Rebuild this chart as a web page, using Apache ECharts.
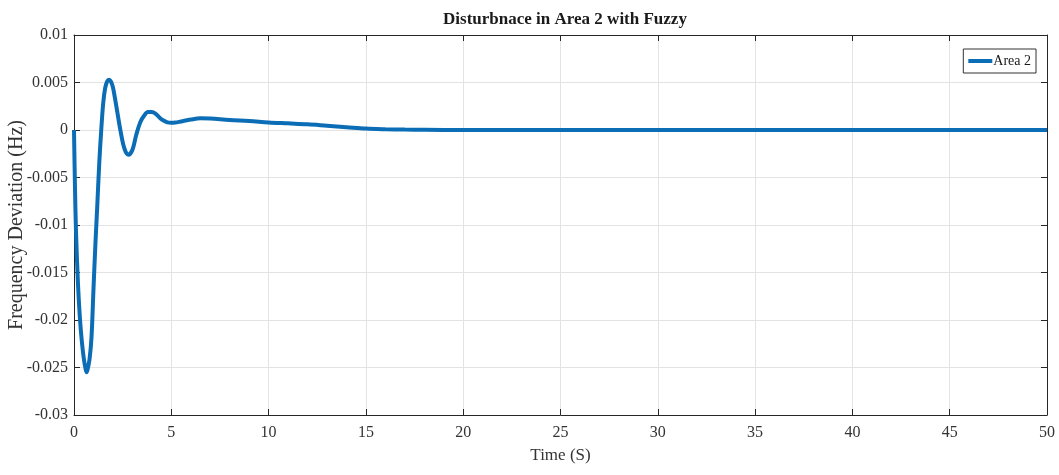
<!DOCTYPE html>
<html>
<head>
<meta charset="utf-8">
<title>Disturbnace in Area 2 with Fuzzy</title>
<script src="https://cdn.jsdelivr.net/npm/echarts@6/dist/echarts.min.js"></script>
<style>
  html, body { margin: 0; padding: 0; background: #ffffff; }
  #chart { width: 1059px; height: 475px; }
</style>
</head>
<body>
<div id="chart"></div>
<script>
// Frequency deviation of Area 2 after the load disturbance (fuzzy controller)
const timeS = [0, 0.05, 0.1, 0.2, 0.3, 0.4, 0.5, 0.6, 0.65, 0.7, 0.8, 0.9, 1.0, 1.1, 1.2, 1.3, 1.4,
  1.5, 1.6, 1.7, 1.8, 1.9, 2.0, 2.1, 2.2, 2.4, 2.6, 2.8, 3.0, 3.2, 3.4, 3.6, 3.8, 4.0, 4.2, 4.4,
  4.6, 4.8, 5.0, 5.2, 5.5, 6.0, 6.5, 7.0, 8, 9, 10, 11, 12, 13, 14, 15, 16, 17, 18, 20, 25, 30, 40, 50];
const area2 = [0, -0.0060, -0.0105, -0.0160, -0.0197, -0.0222, -0.0240, -0.0252, -0.0255, -0.0252,
  -0.0241, -0.0218, -0.0168, -0.0120, -0.0078, -0.0034, 0.0000,
  0.0028, 0.0044, 0.0051, 0.0053, 0.0051, 0.0045, 0.0034, 0.0022, -0.0002, -0.0020, -0.0026,
  -0.0021, -0.0005, 0.0008, 0.0015, 0.0019, 0.0019, 0.0017, 0.0013,
  0.0010, 0.0008, 0.00076, 0.00078, 0.0009, 0.0011, 0.00123, 0.0012, 0.00105, 0.00095, 0.0008,
  0.0007, 0.0006, 0.00045, 0.0003, 0.00015, 0.00008, 0.00004, 0.00002, 0, 0, 0, 0, 0];
const xTicks = [0, 5, 10, 15, 20, 25, 30, 35, 40, 45, 50];
const yTicks = [-0.03, -0.025, -0.02, -0.015, -0.01, -0.005, 0, 0.005, 0.01];

const FONT = '"Liberation Serif", "Times New Roman", serif';
const AXIS_COLOR = '#262626';
const GRID_COLOR = '#e3e3e3';

const points = timeS.map((t, i) => [t, area2[i]]);

const yLabel = v => {
  const hit = yTicks.find(t => Math.abs(t - v) < 1e-9);
  if (hit === undefined) return '';
  return hit === 0 ? '0' : String(parseFloat(hit.toFixed(3)));
};

const chart = echarts.init(document.getElementById('chart'), null, { renderer: 'canvas' });
chart.setOption({
  animation: false,
  backgroundColor: '#ffffff',
  title: {
    text: 'Disturbnace in Area 2 with Fuzzy',
    left: 560,
    textAlign: 'center',
    top: 6,
    textStyle: { fontFamily: FONT, fontWeight: 'bold', fontSize: 17, color: '#1a1a1a' }
  },
  legend: {
    data: ['Area 2'],
    right: 23,
    top: 49,
    orient: 'vertical',
    backgroundColor: '#ffffff',
    borderColor: '#333333',
    borderWidth: 1,
    borderRadius: 0,
    padding: [5, 5, 5, 5],
    icon: 'rect',
    itemWidth: 24,
    itemHeight: 4,
    itemGap: 2,
    textStyle: { fontFamily: FONT, fontSize: 14, color: '#1a1a1a', padding: [0, 0, 0, -4] }
  },
  grid: { left: 74, right: 12, top: 35, bottom: 60, containLabel: false, outerBoundsMode: 'none' },
  xAxis: [{
    type: 'value',
    min: 0, max: 50, interval: 5,
    name: 'Time (S)',
    nameLocation: 'middle',
    nameGap: 32,
    nameMoveOverlap: false,
    nameTextStyle: { fontFamily: FONT, fontSize: 17, color: '#333333' },
    axisLine: { onZero: false, lineStyle: { color: AXIS_COLOR, width: 1 } },
    axisTick: { inside: true, length: 6, lineStyle: { color: AXIS_COLOR } },
    axisLabel: { fontFamily: FONT, fontSize: 16, color: '#333333', margin: 10,
      formatter: v => xTicks.includes(v) ? String(v) : '' },
    splitLine: { show: true, lineStyle: { color: GRID_COLOR, width: 1 } }
  }, {
    type: 'value', position: 'top',
    min: 0, max: 50, interval: 5,
    axisLine: { onZero: false, lineStyle: { color: AXIS_COLOR, width: 1 } },
    axisTick: { inside: true, length: 6, lineStyle: { color: AXIS_COLOR } },
    axisLabel: { show: false },
    splitLine: { show: false }
  }],
  yAxis: [{
    type: 'value',
    min: -0.03, max: 0.01, interval: 0.005,
    name: 'Frequency Deviation (Hz)',
    nameLocation: 'middle',
    nameGap: 47,
    nameMoveOverlap: false,
    nameTextStyle: { fontFamily: FONT, fontSize: 20, color: '#333333' },
    axisLine: { show: true, onZero: false, lineStyle: { color: AXIS_COLOR, width: 1 } },
    axisTick: { show: true, inside: true, length: 6, lineStyle: { color: AXIS_COLOR } },
    axisLabel: { fontFamily: FONT, fontSize: 16, color: '#333333', margin: 6, formatter: yLabel },
    splitLine: { show: true, lineStyle: { color: GRID_COLOR, width: 1 } }
  }, {
    type: 'value', position: 'right',
    min: -0.03, max: 0.01, interval: 0.005,
    axisLine: { show: true, onZero: false, lineStyle: { color: AXIS_COLOR, width: 1 } },
    axisTick: { show: true, inside: true, length: 6, lineStyle: { color: AXIS_COLOR } },
    axisLabel: { show: false },
    splitLine: { show: false }
  }],
  series: [{
    name: 'Area 2',
    type: 'line',
    xAxisIndex: 0,
    yAxisIndex: 0,
    data: points,
    showSymbol: false,
    smooth: 0.35,
    lineStyle: { color: '#0b6db5', width: 4 },
    itemStyle: { color: '#0b6db5' }
  }]
});
</script>
</body>
</html>
